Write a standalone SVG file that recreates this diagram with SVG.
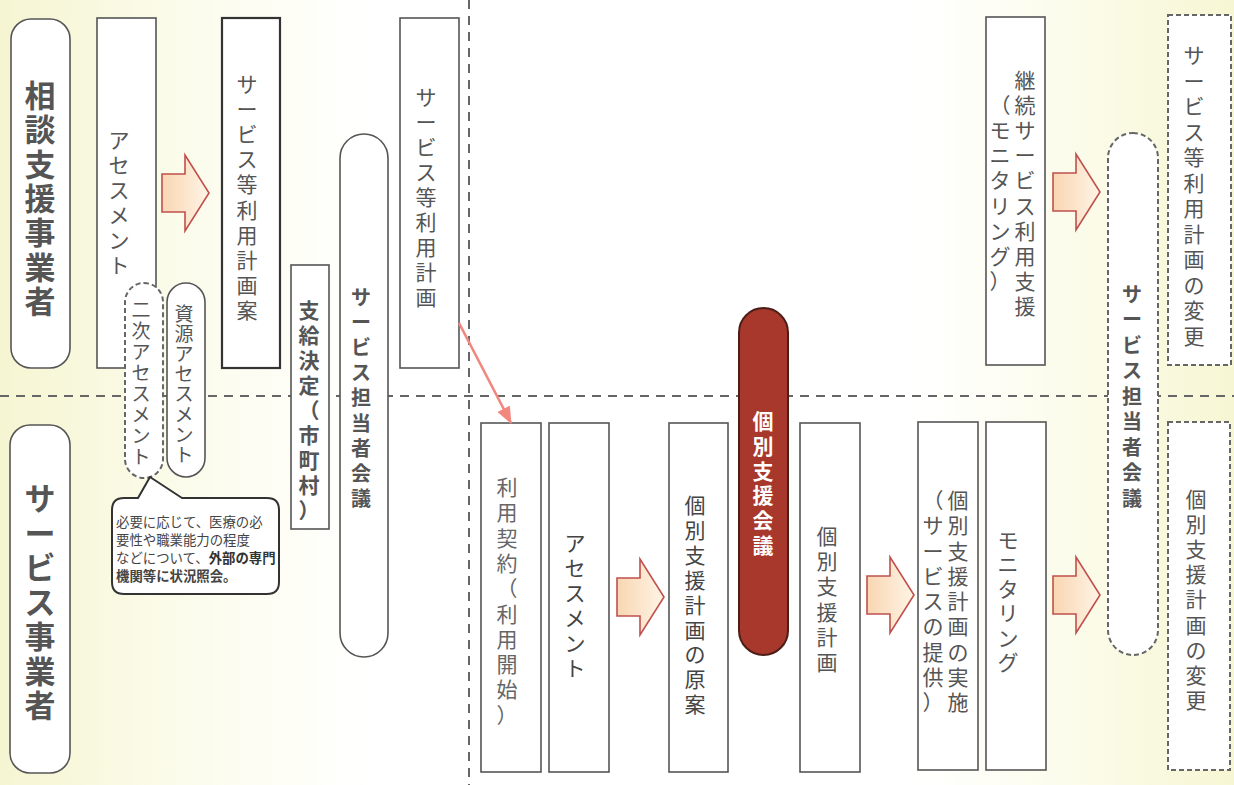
<svg xmlns="http://www.w3.org/2000/svg" width="1234" height="785" viewBox="0 0 1234 785">
<defs>
<linearGradient id="bg" x1="0" y1="0" x2="1" y2="0">
<stop offset="0" stop-color="#f6f5d2"/>
<stop offset="0.14" stop-color="#fbfbea"/>
<stop offset="0.3" stop-color="#ffffff"/>
<stop offset="0.74" stop-color="#ffffff"/>
<stop offset="0.88" stop-color="#fbfbe9"/>
<stop offset="1" stop-color="#f7f6d3"/>
</linearGradient>
<linearGradient id="ag" x1="0" y1="0" x2="1" y2="0">
<stop offset="0" stop-color="#f8d6b2"/>
<stop offset="1" stop-color="#fff4e6"/>
</linearGradient>
<path id="barrow" d="M0,-19 H23 V-38 L47,0 L23,38 V19 H0 Z" fill="url(#ag)" stroke="#c0504d" stroke-width="1.6" stroke-linejoin="miter"/>
<marker id="pk" markerUnits="userSpaceOnUse" markerWidth="18" markerHeight="14" refX="16" refY="7" orient="auto">
<path d="M0,0 L17,7 L0,14 Z" fill="#f2877e"/>
</marker>
<style>
.bx{fill:#fff;stroke:#555;stroke-width:1.6}
.dk{fill:#fff;stroke:#333;stroke-width:2.2}
.ds{fill:#fff;stroke:#666;stroke-width:2;stroke-dasharray:5 3}
.t{font-family:"Noto Sans CJK JP","Noto Sans",sans-serif;font-size:21px;fill:#555;text-anchor:middle}
.b{font-weight:bold}
.big{font-size:31px;font-weight:bold;fill:#555}
.sm{font-size:19px}
.gl{stroke:#666;stroke-width:2;stroke-dasharray:9 7;fill:none}
.ct{font-family:"Noto Sans CJK JP","Noto Sans",sans-serif;font-size:13.4px;fill:#444}
</style>
</defs>
<rect x="0" y="0" width="1234" height="785" fill="url(#bg)"/>

<g id="guides">
<line class="gl" x1="0" y1="396" x2="1234" y2="396"/>
<line class="gl" x1="469" y1="0" x2="469" y2="785"/>
</g>

<g id="n-soudan">
<rect class="bx" x="11" y="19" width="59" height="349" rx="20" stroke-width="2"/>
<text class="t big"><tspan x="40" y="107">相</tspan><tspan x="40" y="141.3">談</tspan><tspan x="40" y="175.6">支</tspan><tspan x="40" y="209.9">援</tspan><tspan x="40" y="244.2">事</tspan><tspan x="40" y="278.5">業</tspan><tspan x="40" y="312.8">者</tspan></text>
</g>

<g id="n-service-jigyo">
<rect class="bx" x="10" y="425" width="60" height="348" rx="20" stroke-width="2"/>
<text class="t big"><tspan x="40" y="510">サ</tspan><tspan x="40" y="544.5">ー</tspan><tspan x="40" y="579">ビ</tspan><tspan x="40" y="613.5">ス</tspan><tspan x="40" y="648">事</tspan><tspan x="40" y="682.5">業</tspan><tspan x="40" y="717">者</tspan></text>
</g>

<g id="n-assess1">
<rect class="bx" x="97" y="18" width="59" height="350" stroke="#777"/>
<text class="t"><tspan x="119" y="147.5">ア</tspan><tspan x="119" y="172.6">セ</tspan><tspan x="119" y="197.7">ス</tspan><tspan x="119" y="222.8">メ</tspan><tspan x="119" y="247.9">ン</tspan><tspan x="119" y="273">ト</tspan></text>
</g>

<g id="n-keikakuan">
<rect class="dk" x="222" y="18" width="58" height="350"/>
<text class="t"><tspan x="247" y="91.5">サ</tspan><tspan x="247" y="116.7">ー</tspan><tspan x="247" y="141.9">ビ</tspan><tspan x="247" y="167.1">ス</tspan><tspan x="247" y="192.3">等</tspan><tspan x="247" y="217.5">利</tspan><tspan x="247" y="242.7">用</tspan><tspan x="247" y="267.9">計</tspan><tspan x="247" y="293.1">画</tspan><tspan x="247" y="318.3">案</tspan></text>
</g>

<g id="n-keikaku">
<rect class="bx" x="400" y="18" width="59" height="350"/>
<text class="t"><tspan x="426" y="104.7">サ</tspan><tspan x="426" y="129.7">ー</tspan><tspan x="426" y="154.7">ビ</tspan><tspan x="426" y="179.7">ス</tspan><tspan x="426" y="204.7">等</tspan><tspan x="426" y="229.7">利</tspan><tspan x="426" y="254.7">用</tspan><tspan x="426" y="279.7">計</tspan><tspan x="426" y="304.7">画</tspan></text>
</g>

<g id="n-niji">
<rect class="ds" x="125" y="283" width="38" height="195" rx="19"/>
<text class="t sm"><tspan x="141" y="317.2">二</tspan><tspan x="141" y="338.1">次</tspan><tspan x="141" y="359">ア</tspan><tspan x="141" y="379.9">セ</tspan><tspan x="141" y="400.8">ス</tspan><tspan x="141" y="421.7">メ</tspan><tspan x="141" y="442.6">ン</tspan><tspan x="141" y="463.5">ト</tspan></text>
</g>

<g id="n-shigen">
<rect class="bx" x="167" y="283" width="38" height="194" rx="19" stroke-width="2"/>
<text class="t sm"><tspan x="184" y="321">資</tspan><tspan x="184" y="341.1">源</tspan><tspan x="184" y="361.2">ア</tspan><tspan x="184" y="381.3">セ</tspan><tspan x="184" y="401.4">ス</tspan><tspan x="184" y="421.5">メ</tspan><tspan x="184" y="441.6">ン</tspan><tspan x="184" y="461.7">ト</tspan></text>
</g>

<g id="n-callout">
<path d="M124,498 H138 L150,477 L182,498 H267 Q279,498 279,510 V582 Q279,594 267,594 H124 Q112,594 112,582 V510 Q112,498 124,498 Z" fill="#fff" stroke="#333" stroke-width="2" stroke-linejoin="round"/>
<text class="ct" x="116" y="527">必要に応じて、医療の必</text>
<text class="ct" x="116" y="545">要性や職業能力の程度</text>
<text class="ct" x="116" y="563">などについて、<tspan font-weight="bold" fill="#333">外部の専門</tspan></text>
<text class="ct" x="116" y="581" font-weight="bold" fill="#333">機関等に状況照会。</text>
</g>

<g id="n-shikyu">
<rect class="bx" x="291" y="265" width="38" height="264" stroke="#8b3535" stroke-width="2"/>
<text class="t b"><tspan x="309" y="318">支</tspan><tspan x="309" y="343">給</tspan><tspan x="309" y="368">決</tspan><tspan x="309" y="393">定</tspan><tspan x="309" y="418">（</tspan><tspan x="309" y="443">市</tspan><tspan x="309" y="468">町</tspan><tspan x="309" y="493">村</tspan><tspan x="309" y="518">）</tspan></text>
</g>

<g id="n-tantou1">
<rect class="bx" x="340" y="134" width="48" height="523" rx="24" stroke-width="2"/>
<text class="t b" style="font-size:20px"><tspan x="361" y="305">サ</tspan><tspan x="361" y="330.1">ー</tspan><tspan x="361" y="355.2">ビ</tspan><tspan x="361" y="380.3">ス</tspan><tspan x="361" y="405.4">担</tspan><tspan x="361" y="430.5">当</tspan><tspan x="361" y="455.6">者</tspan><tspan x="361" y="480.7">会</tspan><tspan x="361" y="505.8">議</tspan></text>
</g>

<g id="n-keiyaku">
<rect class="bx" x="481" y="423" width="60" height="349" stroke="#b8645a" stroke-width="2"/>
<text class="t" style="fill:#666"><tspan x="507" y="495">利</tspan><tspan x="507" y="520.3">用</tspan><tspan x="507" y="545.6">契</tspan><tspan x="507" y="570.9">約</tspan><tspan x="507" y="596.2">（</tspan><tspan x="507" y="621.5">利</tspan><tspan x="507" y="646.8">用</tspan><tspan x="507" y="672.1">開</tspan><tspan x="507" y="697.4">始</tspan><tspan x="507" y="722.7">）</tspan></text>
</g>

<g id="n-assess2">
<rect class="bx" x="549" y="423" width="60" height="349" stroke="#444"/>
<text class="t" style="fill:#444"><tspan x="575" y="551">ア</tspan><tspan x="575" y="576">セ</tspan><tspan x="575" y="601">ス</tspan><tspan x="575" y="626">メ</tspan><tspan x="575" y="651">ン</tspan><tspan x="575" y="676">ト</tspan></text>
</g>

<g id="n-gen-an">
<rect class="bx" x="669" y="423" width="59" height="349" stroke="#444"/>
<text class="t" style="fill:#444"><tspan x="695" y="513">個</tspan><tspan x="695" y="537.9">別</tspan><tspan x="695" y="562.8">支</tspan><tspan x="695" y="587.7">援</tspan><tspan x="695" y="612.6">計</tspan><tspan x="695" y="637.5">画</tspan><tspan x="695" y="662.4">の</tspan><tspan x="695" y="687.3">原</tspan><tspan x="695" y="712.2">案</tspan></text>
</g>

<g id="n-kobetsu-kaigi">
<rect x="739" y="308" width="49" height="347" rx="24.5" fill="#a8382c" stroke="#4d1e17" stroke-width="2"/>
<text class="t b" style="fill:#fff"><tspan x="763" y="429">個</tspan><tspan x="763" y="453.8">別</tspan><tspan x="763" y="478.6">支</tspan><tspan x="763" y="503.4">援</tspan><tspan x="763" y="528.2">会</tspan><tspan x="763" y="553">議</tspan></text>
</g>

<g id="n-kobetsu-keikaku">
<rect class="bx" x="800" y="423" width="60" height="349"/>
<text class="t"><tspan x="827" y="544">個</tspan><tspan x="827" y="569.2">別</tspan><tspan x="827" y="594.4">支</tspan><tspan x="827" y="619.6">援</tspan><tspan x="827" y="644.8">計</tspan><tspan x="827" y="670">画</tspan></text>
</g>

<g id="n-jisshi">
<rect class="bx" x="918" y="422" width="60" height="348"/>
<text class="t"><tspan x="958" y="508">個</tspan><tspan x="958" y="533.25">別</tspan><tspan x="958" y="558.5">支</tspan><tspan x="958" y="583.75">援</tspan><tspan x="958" y="609">計</tspan><tspan x="958" y="634.25">画</tspan><tspan x="958" y="659.5">の</tspan><tspan x="958" y="684.75">実</tspan><tspan x="958" y="710">施</tspan></text>
<text class="t"><tspan x="933" y="508">（</tspan><tspan x="933" y="533.25">サ</tspan><tspan x="933" y="558.5">ー</tspan><tspan x="933" y="583.75">ビ</tspan><tspan x="933" y="609">ス</tspan><tspan x="933" y="634.25">の</tspan><tspan x="933" y="659.5">提</tspan><tspan x="933" y="684.75">供</tspan><tspan x="933" y="710">）</tspan></text>
</g>

<g id="n-monitoring">
<rect class="bx" x="986" y="422" width="60" height="348"/>
<text class="t"><tspan x="1008" y="548">モ</tspan><tspan x="1008" y="572.4">ニ</tspan><tspan x="1008" y="596.8">タ</tspan><tspan x="1008" y="621.2">リ</tspan><tspan x="1008" y="645.6">ン</tspan><tspan x="1008" y="670">グ</tspan></text>
</g>

<g id="n-keizoku">
<rect class="bx" x="986" y="17" width="59" height="348"/>
<text class="t"><tspan x="1025" y="88">継</tspan><tspan x="1025" y="113.1">続</tspan><tspan x="1025" y="138.2">サ</tspan><tspan x="1025" y="163.3">ー</tspan><tspan x="1025" y="188.4">ビ</tspan><tspan x="1025" y="213.5">ス</tspan><tspan x="1025" y="238.6">利</tspan><tspan x="1025" y="263.7">用</tspan><tspan x="1025" y="288.8">支</tspan><tspan x="1025" y="313.9">援</tspan></text>
<text class="t"><tspan x="1000" y="113.1">（</tspan><tspan x="1000" y="138.2">モ</tspan><tspan x="1000" y="163.3">ニ</tspan><tspan x="1000" y="188.4">タ</tspan><tspan x="1000" y="213.5">リ</tspan><tspan x="1000" y="238.6">ン</tspan><tspan x="1000" y="263.7">グ</tspan><tspan x="1000" y="288.8">）</tspan></text>
</g>

<g id="n-tantou2">
<rect class="ds" x="1108" y="133" width="50" height="522" rx="25"/>
<text class="t b" style="font-size:20px"><tspan x="1132" y="301.6">サ</tspan><tspan x="1132" y="327.1">ー</tspan><tspan x="1132" y="352.6">ビ</tspan><tspan x="1132" y="378.1">ス</tspan><tspan x="1132" y="403.6">担</tspan><tspan x="1132" y="429.1">当</tspan><tspan x="1132" y="454.6">者</tspan><tspan x="1132" y="480.1">会</tspan><tspan x="1132" y="505.6">議</tspan></text>
</g>

<g id="n-henkou1">
<rect class="ds" x="1168" y="15" width="63" height="350"/>
<text class="t"><tspan x="1194" y="63">サ</tspan><tspan x="1194" y="88.5">ー</tspan><tspan x="1194" y="114">ビ</tspan><tspan x="1194" y="139.5">ス</tspan><tspan x="1194" y="165">等</tspan><tspan x="1194" y="190.5">利</tspan><tspan x="1194" y="216">用</tspan><tspan x="1194" y="241.5">計</tspan><tspan x="1194" y="267">画</tspan><tspan x="1194" y="292.5">の</tspan><tspan x="1194" y="318">変</tspan><tspan x="1194" y="343.5">更</tspan></text>
</g>

<g id="n-henkou2">
<rect class="ds" x="1168" y="422" width="62" height="348"/>
<text class="t"><tspan x="1196" y="507">個</tspan><tspan x="1196" y="532.1">別</tspan><tspan x="1196" y="557.2">支</tspan><tspan x="1196" y="582.3">援</tspan><tspan x="1196" y="607.4">計</tspan><tspan x="1196" y="632.5">画</tspan><tspan x="1196" y="657.6">の</tspan><tspan x="1196" y="682.7">変</tspan><tspan x="1196" y="707.8">更</tspan></text>
</g>

<g id="connectors">
<use href="#barrow" transform="translate(162,193)"/>
<use href="#barrow" transform="translate(617,597)"/>
<use href="#barrow" transform="translate(867,595)"/>
<use href="#barrow" transform="translate(1053,595)"/>
<use href="#barrow" transform="translate(1053,192)"/>
<line x1="459" y1="323" x2="511" y2="423" stroke="#f2877e" stroke-width="2.6" marker-end="url(#pk)"/>
</g>
</svg>
